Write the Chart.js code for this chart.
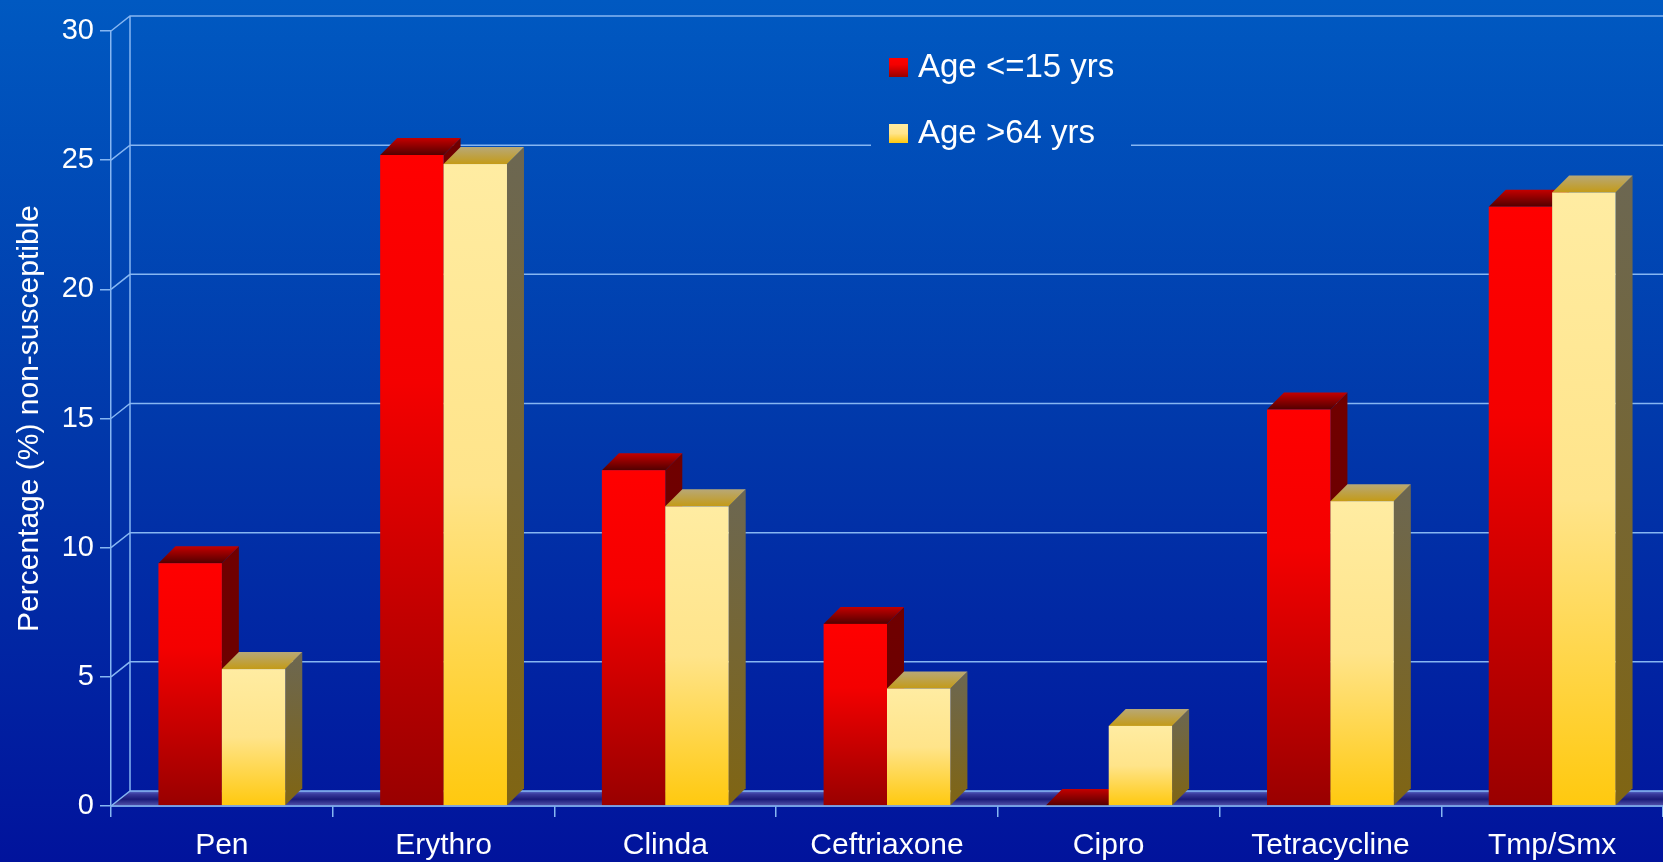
<!DOCTYPE html>
<html>
<head>
<meta charset="utf-8">
<script src="https://cdn.jsdelivr.net/npm/chart.js@4"></script>
<style>
    html, body { margin: 0; padding: 0; background: #0236a8; }
    #wrap { width: 1663px; height: 862px; position: relative; }
</style>
</head>
<body>
<div id="wrap"><canvas id="myChart"></canvas></div>
<script>
// data
const categories = ['Pen', 'Erythro', 'Clinda', 'Ceftriaxone', 'Cipro', 'Tetracycline', 'Tmp/Smx'];
const seriesLabels = ['Age <=15 yrs', 'Age >64 yrs'];
const ageYoung = [9.4, 25.2, 13.0, 7.05, 0, 15.35, 23.2];
const ageOld = [5.3, 24.85, 11.6, 4.55, 3.1, 11.8, 23.75];
const yTicks = [0, 5, 10, 15, 20, 25, 30];

const FONT = "'Liberation Sans', Arial, sans-serif";
const LINE = '#86b6f2';
const WALL = { dx: 19, dy: 15 };
const DEPTH = { dx: 17, dy: 17 };

const faces = [
    { front: [[0, '#ff0000'], [0.35, '#f40000'], [1, '#990000']], top: ['#c40000', '#520000'], side: ['#700000', '#680000'] },
    { front: [[0, '#ffeca2'], [0.5, '#ffe48a'], [1, '#ffc90f']], top: ['#b8a877', '#c49b17'], side: ['#6c6752', '#806513'] }
];

function grad(ctx, y0, y1, stops) {
    const g = ctx.createLinearGradient(0, y0, 0, y1);
    stops.forEach(s => g.addColorStop(s[0], s[1]));
    return g;
}

function bgGradient(ctx, h) {
    return grad(ctx, 0, h, [[0, '#0059c1'], [0.5, '#0138aa'], [1, '#01139c']]);
}

function drawBox(ctx, l, r, t, b, f) {
    const dx = DEPTH.dx, dy = DEPTH.dy;
    // right side
    if (b - t > 0) {
        ctx.fillStyle = grad(ctx, t - dy, b, [[0, f.side[0]], [1, f.side[1]]]);
        ctx.beginPath();
        ctx.moveTo(r, t);
        ctx.lineTo(r + dx, t - dy);
        ctx.lineTo(r + dx, b - dy);
        ctx.lineTo(r, b);
        ctx.closePath();
        ctx.fill();
    }
    // top
    ctx.fillStyle = grad(ctx, t - dy, t, [[0, f.top[0]], [1, f.top[1]]]);
    ctx.beginPath();
    ctx.moveTo(l, t);
    ctx.lineTo(l + dx, t - dy);
    ctx.lineTo(r + dx, t - dy);
    ctx.lineTo(r, t);
    ctx.closePath();
    ctx.fill();
    // front
    if (b - t > 0) {
        ctx.fillStyle = grad(ctx, t, b, f.front);
        ctx.fillRect(l, t, r - l, b - t);
    }
}

const background = {
    id: 'background',
    beforeDraw(chart) {
        const ctx = chart.ctx;
        ctx.save();
        ctx.fillStyle = bgGradient(ctx, chart.height);
        ctx.fillRect(0, 0, chart.width, chart.height);
        ctx.restore();
    }
};

const walls = {
    id: 'walls',
    beforeDatasetsDraw(chart) {
        const ctx = chart.ctx;
        const area = chart.chartArea;
        const ys = chart.scales.y;
        const y0 = ys.getPixelForValue(0);
        const yTop = ys.getPixelForValue(30);
        ctx.save();

        // floor
        ctx.fillStyle = grad(ctx, y0 - WALL.dy, y0, [[0, '#5a6fd0'], [0.2, '#3a3a9c'], [0.55, '#1a1a78'], [1, '#5656b0']]);
        ctx.beginPath();
        ctx.moveTo(area.left, y0);
        ctx.lineTo(area.left + WALL.dx, y0 - WALL.dy);
        ctx.lineTo(chart.width, y0 - WALL.dy);
        ctx.lineTo(chart.width, y0);
        ctx.closePath();
        ctx.fill();

        ctx.strokeStyle = LINE;
        ctx.lineWidth = 1.5;
        ctx.beginPath();
        yTicks.forEach(v => {
            const y = ys.getPixelForValue(v);
            ctx.moveTo(area.left, y);
            ctx.lineTo(area.left + WALL.dx, y - WALL.dy);
            ctx.lineTo(chart.width, y - WALL.dy);
        });
        ctx.moveTo(area.left + WALL.dx, yTop - WALL.dy);
        ctx.lineTo(area.left + WALL.dx, y0 - WALL.dy);
        ctx.stroke();

        // legend panel
        ctx.fillStyle = bgGradient(ctx, chart.height);
        ctx.fillRect(871, 40, 260, 118);
        const items = [
            { y: 58, fill: grad(ctx, 58, 77, faces[0].front) },
            { y: 124, fill: grad(ctx, 124, 143, faces[1].front) }
        ];
        ctx.font = '33px ' + FONT;
        ctx.textBaseline = 'middle';
        ctx.textAlign = 'left';
        items.forEach((it, i) => {
            ctx.fillStyle = it.fill;
            ctx.fillRect(889, it.y, 19, 19);
            ctx.fillStyle = '#ffffff';
            ctx.fillText(chart.data.datasets[i].label, 918, it.y + 10);
        });
        ctx.restore();
    },
    afterDatasetsDraw(chart) {
        const ctx = chart.ctx;
        ctx.save();
        const metas = chart.data.datasets.map((d, i) => chart.getDatasetMeta(i));
        categories.forEach((c, i) => {
            metas.forEach((meta, d) => {
                const bar = meta.data[i];
                if (!bar) return;
                const p = bar.getProps(['x', 'y', 'base', 'width'], true);
                drawBox(ctx, p.x - p.width / 2, p.x + p.width / 2, p.y, p.base, faces[d]);
            });
        });
        const area = chart.chartArea;
        const y0 = chart.scales.y.getPixelForValue(0);
        ctx.strokeStyle = LINE;
        ctx.lineWidth = 1.5;
        ctx.beginPath();
        ctx.moveTo(area.left, y0);
        ctx.lineTo(area.right, y0);
        ctx.stroke();
        ctx.restore();
    }
};

const ctx = document.getElementById('myChart');
new Chart(ctx, {
    type: 'bar',
    data: {
        labels: categories,
        datasets: [{
            label: seriesLabels[0],
            data: ageYoung,
            backgroundColor: 'rgba(0,0,0,0)',
            borderWidth: 0
        },
        {
            label: seriesLabels[1],
            data: ageOld,
            backgroundColor: 'rgba(0,0,0,0)',
            borderWidth: 0
        }]
    },
    options: {
        responsive: true,
        maintainAspectRatio: false,
        animation: false,
        categoryPercentage: 0.572,
        barPercentage: 1,
        layout: {
            padding: { top: 31, left: 0, right: 0, bottom: 0 }
        },
        plugins: {
            legend: { display: false },
            tooltip: { enabled: false }
        },
        scales: {
            x: {
                ticks: {
                    color: '#ffffff',
                    font: { family: FONT, size: 30 },
                    padding: 11,
                    autoSkip: false,
                    maxRotation: 0
                },
                grid: { drawOnChartArea: false, color: LINE, lineWidth: 1.5, tickLength: 11, offset: true },
                border: { color: LINE, width: 1.5 },
                afterFit: s => { s.height = 56; }
            },
            y: {
                min: 0,
                max: 30,
                afterBuildTicks: s => { s.ticks = yTicks.map(v => ({ value: v })); },
                ticks: {
                    color: '#ffffff',
                    font: { family: FONT, size: 29 },
                    padding: 6
                },
                grid: { drawOnChartArea: false, color: LINE, lineWidth: 1.5, tickLength: 11 },
                border: { color: LINE, width: 1.5 },
                title: {
                    display: true,
                    text: 'Percentage (%) non-susceptible',
                    color: '#ffffff',
                    font: { family: FONT, size: 30 },
                    padding: { top: 12, bottom: 0 }
                },
                afterFit: s => { s.width = 111; }
            }
        }
    },
    plugins: [background, walls]
});
</script>
</body>
</html>
